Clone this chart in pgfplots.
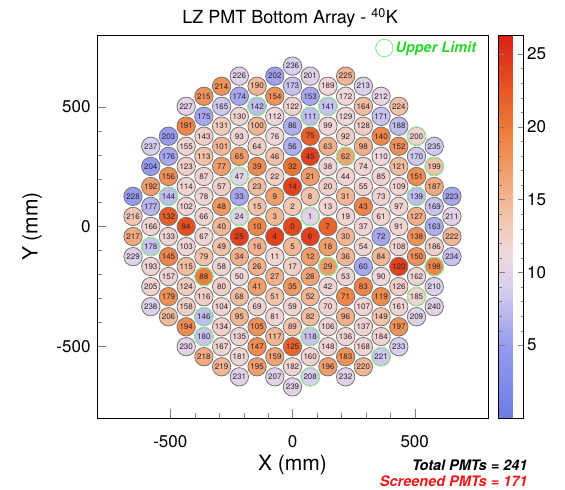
\documentclass[border=0pt]{standalone}
\usepackage{pgfplots}
\usepackage{pgfplotstable}
\usepackage{fontspec}
\setmainfont{TeX Gyre Heros}
\pgfplotsset{compat=1.18}
\definecolor{ulgreen}{RGB}{40,215,40}
\definecolor{ringgreen}{RGB}{150,232,150}
\definecolor{pmtedge}{RGB}{115,115,115}
\definecolor{numtxt}{RGB}{45,35,50}
\definecolor{scrred}{RGB}{235,25,25}
\pgfplotstableread{
x y v id g
-652.5 126 5 228 0
-652.5 42 13.5 216 0
-652.5 -42 16 217 0
-652.5 -126 10 229 0
-580 335 9 237 0
-580 251 5 204 0
-580 167 17 192 0
-580 84 7 177 0
-580 0 12 166 0
-580 -84 8 178 1
-580 -167 12 193 0
-580 -251 12 205 0
-580 -335 9.5 238 0
-507.5 377 5 203 0
-507.5 293 6 176 0
-507.5 209 18 156 0
-507.5 126 7.5 144 1
-507.5 42 22 132 0
-507.5 -42 12 133 0
-507.5 -126 19 145 0
-507.5 -209 12 157 0
-507.5 -293 18 179 0
-507.5 -377 14.5 206 0
-435 502 10 227 0
-435 419 19 191 0
-435 335 12 155 0
-435 251 12.5 123 0
-435 167 12 114 0
-435 84 12 102 0
-435 0 23 94 0
-435 -84 12 103 0
-435 -167 14.5 115 0
-435 -251 13 124 0
-435 -335 12.5 158 0
-435 -419 18.5 194 0
-435 -502 10 230 0
-362.5 544 18 215 0
-362.5 460 6 175 0
-362.5 377 12.5 143 0
-362.5 293 14 113 0
-362.5 209 12 87 0
-362.5 126 12 78 0
-362.5 42 12 66 0
-362.5 -42 12 67 0
-362.5 -126 14 79 0
-362.5 -209 19.5 88 1
-362.5 -293 12.5 116 0
-362.5 -377 7.5 146 1
-362.5 -460 8 180 1
-362.5 -544 16 218 0
-290 586 18 214 0
-290 502 8.5 165 0
-290 419 13 131 0
-290 335 15 101 0
-290 251 17 77 0
-290 167 12.5 57 0
-290 84 17.5 48 0
-290 0 15 40 0
-290 -84 14 49 0
-290 -167 12 58 0
-290 -251 12.5 80 0
-290 -335 12 104 0
-290 -419 12.5 134 0
-290 -502 12 167 0
-290 -586 15 219 0
-217.5 628 10 226 0
-217.5 544 6 174 0
-217.5 460 12 130 0
-217.5 377 12 93 0
-217.5 293 17 65 0
-217.5 209 10 47 1
-217.5 126 6 33 0
-217.5 42 10 24 1
-217.5 -42 24 25 0
-217.5 -126 15.5 34 0
-217.5 -209 11.5 50 0
-217.5 -293 14.5 68 0
-217.5 -377 15 95 0
-217.5 -460 12 135 0
-217.5 -544 12 181 0
-217.5 -628 10 231 0
-145 586 15 190 0
-145 502 7.5 142 1
-145 419 15 100 0
-145 335 12.5 64 0
-145 251 18.5 39 0
-145 167 14.5 23 0
-145 84 14 15 0
-145 0 19 10 0
-145 -84 15.5 16 0
-145 -167 15.5 26 0
-145 -251 17 41 0
-145 -335 12 69 0
-145 -419 18 105 0
-145 -502 18.5 147 0
-145 -586 17 195 0
-72.5 628 5.5 202 0
-72.5 544 18 154 0
-72.5 460 11.5 112 0
-72.5 377 11.5 76 0
-72.5 293 14 46 0
-72.5 209 12.5 22 0
-72.5 126 17 9 0
-72.5 42 15 3 0
-72.5 -42 24 4 0
-72.5 -126 12 11 0
-72.5 -209 15.5 27 0
-72.5 -293 14 51 0
-72.5 -377 12 81 0
-72.5 -460 15 117 0
-72.5 -544 16.5 159 0
-72.5 -628 10 207 0
0 670 9 236 0
0 586 8 173 0
0 502 12 122 0
0 419 6.5 86 0
0 335 6.5 56 0
0 251 20.5 32 0
0 167 24 14 0
0 84 13.5 2 0
0 0 23.5 0 0
0 -84 15 5 0
0 -167 12.5 17 0
0 -251 17.5 35 0
0 -335 12 59 0
0 -419 14 89 0
0 -502 21.5 125 0
0 -586 12 182 0
0 -670 10 239 0
72.5 628 10 201 0
72.5 544 6 153 0
72.5 460 7.5 111 1
72.5 377 22 75 0
72.5 293 24 45 0
72.5 209 17 21 0
72.5 126 14 8 0
72.5 42 10 1 1
72.5 -42 24 6 0
72.5 -126 17 12 0
72.5 -209 16.5 28 0
72.5 -293 15 52 0
72.5 -377 14.5 82 0
72.5 -460 8 118 1
72.5 -544 12 160 0
72.5 -628 9 208 1
145 586 11.5 189 0
145 502 8 141 1
145 419 11.5 99 0
145 335 15.5 63 0
145 251 12 38 0
145 167 12.5 20 0
145 84 12 13 0
145 0 21.5 7 0
145 -84 17 18 0
145 -167 17 29 1
145 -251 12 42 0
145 -335 12 70 0
145 -419 12 106 0
145 -502 12 148 0
145 -586 17 196 0
217.5 628 15 225 0
217.5 544 11.5 172 0
217.5 460 11.5 129 0
217.5 377 12.5 92 0
217.5 293 16.5 62 1
217.5 209 12 44 0
217.5 126 15 31 0
217.5 42 12 19 0
217.5 -42 15 30 0
217.5 -126 15 36 0
217.5 -209 12 53 0
217.5 -293 19 71 0
217.5 -377 15.5 96 0
217.5 -460 12 136 0
217.5 -544 18 183 0
217.5 -628 10 232 0
290 586 9.5 213 0
290 502 14.5 164 0
290 419 12.5 128 0
290 335 15.5 98 0
290 251 12 74 0
290 167 12 55 0
290 84 19 43 0
290 0 12 37 0
290 -84 12 54 0
290 -167 6 60 0
290 -251 19 83 0
290 -335 12 107 0
290 -419 12 137 0
290 -502 12 168 0
290 -586 15 220 0
362.5 544 10.5 212 0
362.5 460 8 171 0
362.5 377 19 140 0
362.5 293 11.5 110 0
362.5 209 12 85 0
362.5 126 12 73 0
362.5 42 12 61 0
362.5 -42 6 72 0
362.5 -126 15 84 0
362.5 -209 11.5 90 0
362.5 -293 18.5 119 0
362.5 -377 14 149 0
362.5 -460 12 184 0
362.5 -544 8.5 221 1
435 502 14 224 0
435 419 7.5 188 0
435 335 18 152 0
435 251 14.5 121 0
435 167 12 109 0
435 84 12 97 0
435 0 12 91 0
435 -84 12 108 0
435 -167 24 120 0
435 -251 12.5 126 0
435 -335 12 161 0
435 -419 18 197 0
435 -502 9 233 0
507.5 377 12 200 1
507.5 293 8.5 170 0
507.5 209 18.5 151 0
507.5 126 7.5 139 1
507.5 42 15.5 127 0
507.5 -42 18 138 0
507.5 -126 18 150 0
507.5 -209 12 162 0
507.5 -293 12 185 1
507.5 -377 10 209 0
580 335 8.5 235 0
580 251 14 199 1
580 167 16 187 0
580 84 8 169 0
580 0 6.5 163 0
580 -84 12.5 186 0
580 -167 19 198 1
580 -251 9.5 210 0
580 -335 10 240 0
652.5 126 6 223 0
652.5 42 10 211 0
652.5 -42 15 222 0
652.5 -126 8 234 0
}\pmt
\begin{document}
\begin{tikzpicture}
\path (0,0) rectangle (565pt,490pt);
\begin{axis}[
  at={(97pt,72pt)}, anchor=south west,
  scale only axis, width=391pt, height=383pt,
  xmin=-800, xmax=800, ymin=-800, ymax=800,
  xtick={-500,0,500}, ytick={-500,0,500},
  minor tick num=4,
  tick align=inside,
  tick pos=left,
  major tick length=9pt, minor tick length=5pt,
  axis line style={line width=0.6pt},
  /pgf/number format/assume math mode=true,
  /pgf/number format/1000 sep={},
  ticklabel style={font=\fontsize{17}{17}\selectfont},
  xticklabel style={yshift=-14pt},
  yticklabel style={xshift=-3pt},
  xlabel={X (mm)}, ylabel={Y (mm)},
  label style={font=\fontsize{21}{21}\selectfont},
  xlabel style={at={(axis description cs:0.5,-0.123)}, anchor=center},
  ylabel style={at={(axis description cs:-0.166,0.5)}, anchor=center},
  colormap={lz}{rgb255(0cm)=(110,125,228) rgb255(5cm)=(150,155,238) rgb255(9cm)=(215,208,238) rgb255(11.5cm)=(240,216,218) rgb255(14cm)=(242,194,168) rgb255(17cm)=(240,158,105) rgb255(20cm)=(236,122,55) rgb255(23cm)=(230,80,32) rgb255(26.3cm)=(220,32,20)},
  point meta min=0, point meta max=26.3,
  colorbar,
  colorbar style={
    at={(parent axis.north east)}, anchor=north west, xshift=2pt,
    width=25pt,
    ytick={5,10,15,20,25}, minor y tick num=4,
    yticklabel style={font=\fontsize{17}{17}\selectfont},
    tick align=inside, major tick length=6pt, minor tick length=3pt,
    /pgf/number format/assume math mode=true,
  },
  legend style={at={(axis description cs:0.711,0.966)}, anchor=west, draw=none, fill=none,
    inner sep=0pt, font=\fontsize{14.5}{15}\bfseries\itshape\selectfont, text=ulgreen},
  legend image code/.code={\draw[ringgreen, line width=1pt] (0.3cm,0cm) circle (8.7pt);},
  clip mode=individual,
]
\addplot[scatter, only marks, mark=*, mark size=9.2pt, line width=0.8pt, forget plot,
  scatter src=explicit,
  scatter/use mapped color={draw=pmtedge, fill=mapped color},
] table[x=x, y=y, meta=v] {\pmt};
\addplot[only marks, mark=o, mark size=9.2pt, draw=ringgreen, line width=1pt,
  restrict expr to domain={\thisrow{g}}{0.5:1.5}] table[x=x, y=y] {\pmt};
\addlegendentry{Upper Limit}
\addplot[only marks, mark=none, draw=none, forget plot,
  point meta=explicit symbolic,
  nodes near coords,
  every node near coord/.append style={font=\fontsize{8}{8}\selectfont, text=numtxt, inner sep=0pt, anchor=center},
] table[x=x, y=y, meta=id] {\pmt};
\node[font=\fontsize{18}{18}\selectfont, anchor=center] at (axis description cs:0.494,1.044) {LZ PMT Bottom Array - \textsuperscript{40}K};
\node[font=\fontsize{14.5}{15}\bfseries\itshape\selectfont, anchor=east] at (axis description cs:1.110,-0.123) {Total PMTs = 241};
\node[font=\fontsize{14.5}{15}\bfseries\itshape\selectfont, anchor=east, text=scrred] at (axis description cs:1.110,-0.164) {Screened PMTs = 171};
\end{axis}
\end{tikzpicture}
\end{document}
